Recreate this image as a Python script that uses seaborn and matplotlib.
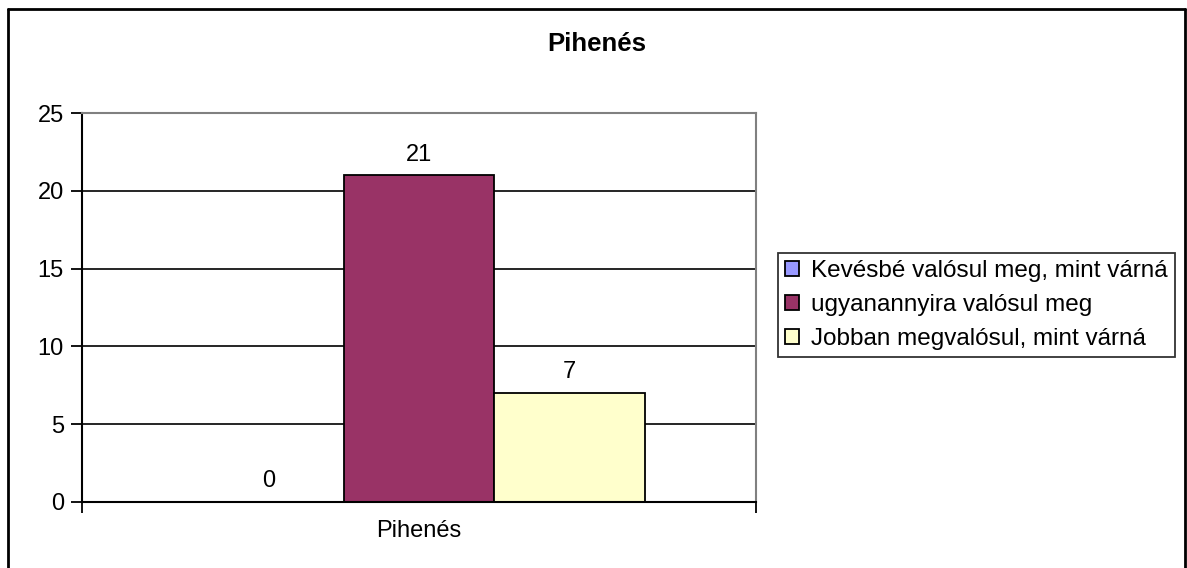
import matplotlib
matplotlib.use("Agg")
import matplotlib.pyplot as plt
import seaborn as sns
import pandas as pd
from matplotlib.lines import Line2D

# data
category = ["Pihenés"]
series = ["Kevésbé valósul meg, mint várná",
          "ugyanannyira valósul meg",
          "Jobban megvalósul, mint várná"]
values = [0, 21, 7]
colors = ["#9999FF", "#993366", "#FFFFCC"]
yticks = [0, 5, 10, 15, 20, 25]

df = pd.DataFrame({"cat": category * len(series), "series": series, "value": values})

sns.set_style("white")
plt.rcParams["font.family"] = ["Liberation Sans", "DejaVu Sans"]
plt.rcParams["text.color"] = "black"
plt.rcParams["xtick.color"] = "black"
plt.rcParams["ytick.color"] = "black"

fig = plt.figure(figsize=(11.87, 5.68), dpi=100)
ax = fig.add_axes([82 / 1187, 1 - 502 / 568, (756 - 82) / 1187, (502 - 113) / 568])

sns.barplot(data=df, x="cat", y="value", hue="series", hue_order=series,
            palette=colors, width=0.67, edgecolor="black", linewidth=1.3,
            saturation=1, ax=ax, legend=True)

for c in ax.containers:
    ax.bar_label(c, fmt="%g", padding=7, fontsize=17, color="black")

ax.set_ylim(0, 25)
ax.set_xlim(-0.5, 0.5)
ax.set_yticks(yticks)
ax.set_yticklabels([str(t) for t in yticks], fontsize=17)
ax.yaxis.grid(True, color="black", linewidth=1.2)
ax.set_axisbelow(True)
ax.set_xlabel("")
ax.set_ylabel("")
ax.tick_params(axis="y", length=8, width=1.3, color="black", pad=5, left=True)
ax.set_xticks([0])
ax.set_xticklabels(category, fontsize=17)
ax.tick_params(axis="x", length=0, pad=13)
ax.set_xticks([-0.5, 0.5], minor=True)
ax.tick_params(axis="x", which="minor", length=8, width=1.3, color="black", bottom=True)

for side in ["left", "bottom"]:
    ax.spines[side].set_color("black")
    ax.spines[side].set_linewidth(1.5)
for side in ["top", "right"]:
    ax.spines[side].set_visible(True)
    ax.spines[side].set_color("#808080")
    ax.spines[side].set_linewidth(1.5)

ax.set_title("Pihenés", fontsize=18.5, fontweight="bold", pad=0, x=(597 - 82) / (756 - 82),
             y=(502 - 44) / (502 - 113), va="center", color="black")

leg = ax.legend(loc="center left", bbox_to_anchor=(778 / 1187, 1 - 305 / 568),
                bbox_transform=fig.transFigure, fontsize=17.5, frameon=True,
                fancybox=False, edgecolor="black", handlelength=0.55, handleheight=0.55,
                handletextpad=0.5, borderpad=0.3, labelspacing=0.5, borderaxespad=0)
leg.get_frame().set_linewidth(1.3)
for t in leg.get_texts():
    t.set_color("black")

# figure border
fig.add_artist(Line2D([8 / 1187, 8 / 1187], [0, 1 - 9 / 568], transform=fig.transFigure, color="black", lw=2))
fig.add_artist(Line2D([8 / 1187, 1185 / 1187], [1 - 9 / 568, 1 - 9 / 568], transform=fig.transFigure, color="black", lw=2))
fig.add_artist(Line2D([1185 / 1187, 1185 / 1187], [0, 1 - 9 / 568], transform=fig.transFigure, color="black", lw=2))

fig.savefig("out.png", dpi=100)
